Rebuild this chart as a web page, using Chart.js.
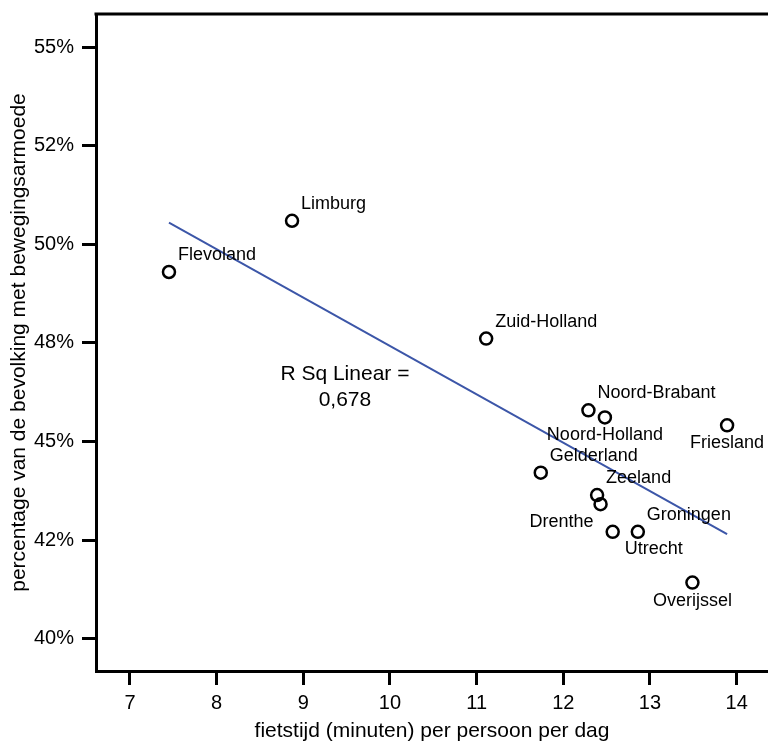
<!DOCTYPE html>
<html>
<head>
<meta charset="utf-8">
<script src="https://cdn.jsdelivr.net/npm/chart.js@4.4.1/dist/chart.umd.min.js"></script>
<style>
  html, body { margin: 0; padding: 0; background: #fff; overflow: hidden; }
</style>
</head>
<body>
<canvas id="scatterChart" width="768" height="744"></canvas>
<script>
// provinces
const provinces = ["Flevoland", "Limburg", "Zuid-Holland", "Noord-Brabant", "Noord-Holland", "Friesland",
    "Gelderland", "Zeeland", "Drenthe", "Utrecht", "Groningen", "Overijssel"];
const cyclingMinutes = [7.45, 8.87, 11.11, 12.29, 12.48, 13.89, 11.74, 12.39, 12.43, 12.57, 12.86, 13.49];
const inactivePct = [49.30, 50.60, 47.61, 45.79, 45.61, 45.41, 44.21, 43.64, 43.41, 42.71, 42.71, 41.42];

// fit line end points as drawn
const fitX = [7.45, 13.89];
const fitY = [50.55, 42.65];

const xTicks = [7, 8, 9, 10, 11, 12, 13, 14];
const yTicks = [40, 42.5, 45, 47.5, 50, 52.5, 55];
const yTickLabels = ["40%", "42%", "45%", "48%", "50%", "52%", "55%"];

const rSqText = ["R Sq Linear =", "0,678"];

// where each label sits relative to its point
const labelPlace = ["ur", "ur", "ur", "ur", "b", "b", "ur", "ur", "ll", "lr", "ur", "b"];

const FONT = "'Liberation Sans', Arial, sans-serif";

const scatterPoints = cyclingMinutes.map((x, i) => ({ x: x, y: inactivePct[i] }));
const fitPoints = fitX.map((x, i) => ({ x: x, y: fitY[i] }));

const frameTop = {
    id: "frameTop",
    beforeDatasetsDraw(chart) {
        const { ctx, chartArea } = chart;
        ctx.save();
        ctx.strokeStyle = "#000";
        ctx.lineWidth = 3;
        ctx.beginPath();
        ctx.moveTo(chartArea.left - 1.5, chartArea.top);
        ctx.lineTo(chartArea.right + 2, chartArea.top);
        ctx.stroke();
        ctx.restore();
    }
};

const pointLabels = {
    id: "pointLabels",
    afterDatasetsDraw(chart) {
        const { ctx, scales } = chart;
        ctx.save();
        ctx.fillStyle = "#000";
        ctx.font = "18px " + FONT;
        ctx.textBaseline = "middle";
        provinces.forEach((name, i) => {
            const px = scales.x.getPixelForValue(cyclingMinutes[i]);
            const py = scales.y.getPixelForValue(inactivePct[i]);
            const p = labelPlace[i];
            if (p === "ur") { ctx.textAlign = "left"; ctx.fillText(name, px + 9, py - 17); }
            if (p === "b") { ctx.textAlign = "center"; ctx.fillText(name, px, py + 18); }
            if (p === "ll") { ctx.textAlign = "right"; ctx.fillText(name, px - 7, py + 18); }
            if (p === "lr") { ctx.textAlign = "left"; ctx.fillText(name, px + 12, py + 17); }
        });

        // R squared note
        ctx.font = "21px " + FONT;
        ctx.textAlign = "center";
        const rx = scales.x.getPixelForValue(9.48);
        const ry = scales.y.getPixelForValue(46.71);
        ctx.fillText(rSqText[0], rx, ry);
        ctx.fillText(rSqText[1], rx, ry + 26);
        ctx.restore();
    }
};

function noPad(axis) {
    axis.paddingLeft = 0;
    axis.paddingRight = 0;
    axis.paddingTop = 0;
    axis.paddingBottom = 0;
}

const chart = new Chart(document.getElementById("scatterChart"), {
    type: "scatter",
    data: {
        datasets: [
            {
                label: "fit",
                type: "line",
                data: fitPoints,
                borderColor: "#3c56a8",
                borderWidth: 2,
                pointRadius: 0,
                fill: false,
                order: 2
            },
            {
                label: "provincies",
                data: scatterPoints,
                pointRadius: 6,
                pointHoverRadius: 6,
                borderWidth: 2.5,
                borderColor: "#000",
                backgroundColor: "rgba(255,255,255,0)",
                order: 1
            }
        ]
    },
    options: {
        responsive: false,
        animation: false,
        layout: { autoPadding: false, padding: { top: 14, left: 0, right: 0, bottom: 0 } },
        plugins: {
            legend: { display: false },
            tooltip: { enabled: false }
        },
        scales: {
            x: {
                type: "linear",
                min: 6.608,
                max: 14.362,
                afterBuildTicks: axis => { axis.ticks = xTicks.map(v => ({ value: v })); },
                afterFit: axis => { axis.height = 73; noPad(axis); },
                grid: { display: true, drawOnChartArea: false, drawTicks: true, tickLength: 14, tickWidth: 3, tickColor: "#000" },
                border: { display: true, width: 3, color: "#000" },
                ticks: {
                    color: "#000",
                    font: { family: FONT, size: 20 },
                    padding: 6,
                    maxRotation: 0,
                    callback: v => String(v)
                },
                title: {
                    display: true,
                    text: "fietstijd (minuten) per persoon per dag",
                    color: "#000",
                    font: { family: FONT, size: 21 },
                    padding: { top: 0, bottom: 0 }
                }
            },
            y: {
                type: "linear",
                min: 39.178,
                max: 55.845,
                afterBuildTicks: axis => { axis.ticks = yTicks.map(v => ({ value: v })); },
                afterFit: axis => { axis.width = 96; noPad(axis); },
                grid: { display: true, drawOnChartArea: false, drawTicks: true, tickLength: 14, tickWidth: 3, tickColor: "#000" },
                border: { display: true, width: 3, color: "#000" },
                ticks: {
                    color: "#000",
                    font: { family: FONT, size: 20 },
                    padding: 8,
                    callback: (v, i) => yTickLabels[i]
                },
                title: {
                    display: true,
                    text: "percentage van de bevolking met bewegingsarmoede",
                    color: "#000",
                    font: { family: FONT, size: 21 },
                    padding: { top: 7, bottom: 0 }
                }
            }
        }
    },
    plugins: [frameTop, pointLabels]
});
</script>
</body>
</html>
